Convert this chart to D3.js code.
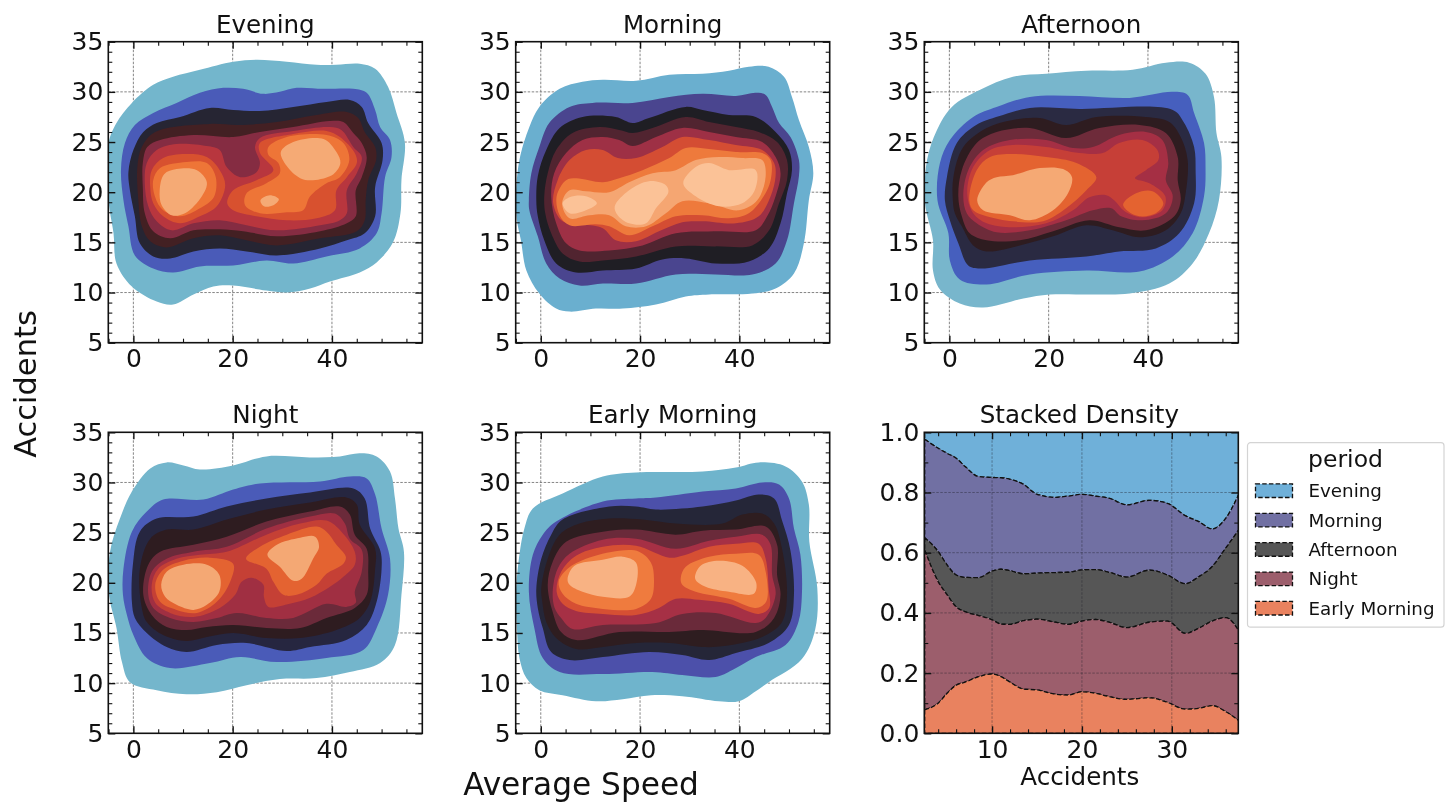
<!DOCTYPE html>
<html>
<head>
<meta charset="utf-8">
<script src="https://cdnjs.cloudflare.com/ajax/libs/d3/7.8.5/d3.min.js"></script>
<style>
    html, body { margin: 0; padding: 0; background: #fff; }
    svg { display: block; filter: blur(0.45px); }
    text { font-family: "DejaVu Sans", sans-serif; fill: #111; }
</style>
</head>
<body>
<svg id="chart" width="1452" height="802"></svg>
<script>
// contour outlines as [speed, accidents], outermost level first.
// a level can hold more than one ring
var eveningContours = [
    [[[-5,24.9],[-3.4,26.9],[-.3,28.9],[4,30.7],[8,31.5],[13.4,32.2],[20.1,33],[24.8,33.2],[30.9,33],[36.9,32.7],[40.9,32.7],[45.6,32.8],[48.7,32.3],[51.3,30.5],[53,27.9],[54.7,24.9],[54,21.2],[53.8,17.9],[52.3,15],[49,13],[45.6,12],[39.6,11.1],[35.6,10.4],[30.9,10],[26.8,10.2],[20.1,10.7],[16.1,10.6],[12.1,9.8],[8,8.8],[4.7,9.1],[-.3,10.6],[-3.4,12.9],[-4,15.9],[-5,19.2]]],
    [[[-2.5,22.2],[-1.7,24.9],[.3,26.7],[4,27.9],[8.7,28.9],[13.4,29.9],[18.1,30.4],[22.1,30.3],[26.2,29.8],[29.5,30],[32.9,30.4],[38.3,30.3],[44.3,30.3],[47,29.9],[48.7,28.2],[49.7,26.5],[51.7,25.2],[52,23.5],[50.7,21.5],[50,17.9],[49,15.9],[45.6,14.4],[38.9,13.6],[32.2,12.9],[26.8,13.2],[20.1,12.7],[13.4,12.6],[8,12],[4,12.4],[.3,13.7],[-1,16.6],[-2,19.2]]],
    [[[-1,22],[0,24.2],[2,26],[4.7,26.9],[9.4,27.5],[15.4,28.4],[20.1,28.2],[25.5,28.1],[32.2,28.5],[38.9,29],[43.6,29.2],[46,28.5],[47.3,26.9],[50,24.9],[50.2,23.2],[48.7,20.5],[48.7,17.6],[46.6,15.9],[43,15.2],[37.6,14.4],[28.9,13.7],[22.8,14.1],[17.4,14.4],[12.1,14.1],[7.4,13.4],[4,13.6],[1.3,14.9],[.3,17.6],[-.7,20.2]]],
    [[[.8,22.5],[1.7,24.5],[4.4,26],[15.4,26.8],[21.1,26.7],[28.9,27],[36.9,27.7],[43,28],[45.3,27.4],[46.6,26],[48.7,24.5],[48.9,23.2],[47.3,21.2],[46.8,19.2],[46.6,17.2],[45,16.1],[37.6,15.4],[28.9,14.7],[22.8,15.2],[17.4,15.7],[12.1,15.4],[6.7,14.5],[3.4,15.1],[1.7,16.6],[1,19.2]]],
    [[[1.9,22.9],[2.8,24.5],[5.4,25.2],[12.1,25.7],[20.1,25.5],[25.5,26],[32.2,26.5],[39.6,27.1],[42.3,27],[44.3,25.9],[46,24.9],[47,23.5],[46,21.5],[44.8,20.2],[44.8,17.6],[43,16.9],[37.6,16.1],[28.9,15.6],[22.1,16.1],[17.4,16.3],[12.1,16.2],[7.4,15.4],[4,16.1],[2.3,17.9],[1.9,20.5]]],
    [[[2.7,22.9],[4.7,24.2],[8.7,24.8],[14.8,24.6],[17.4,24.2],[18.8,22.5],[21.5,21.5],[24.8,22],[25.5,22.9],[24.5,24.5],[25.5,25.4],[32.2,26.1],[39.6,26.5],[41.9,26.2],[44.3,24.5],[46,23.5],[45,21.9],[43,20.2],[43,17.9],[41.6,17.2],[37.6,16.7],[28.9,16.2],[22.8,16.7],[17.4,17.2],[12.1,16.9],[7.7,16.2],[4.7,17.1],[3,18.6],[2.3,20.9]]],
    [[[3.7,22.2],[6,23.4],[10.4,23.8],[14.8,23.5],[17.4,22.2],[18.5,20.7],[16.8,18.6],[13.4,17.6],[9.4,16.9],[6,17.6],[4,18.9],[3.4,20.5]],
     [[25.5,24.9],[32.2,25.8],[38.9,26.1],[41.6,25.5],[44.6,23.9],[45,22.9],[43,21.5],[40.9,20.2],[40.6,18.2],[36.9,17.4],[30.9,17.2],[24.8,17.6],[20.1,18.2],[18.9,18.9],[20.1,20.2],[24.8,21.2],[28.2,22.2],[25.5,23.9]]],
    [[[4,21.2],[5.4,22.4],[10.7,23],[14.8,22.9],[16.6,21.5],[16.2,19.5],[13.4,18.4],[9.4,17.6],[6,18.2],[4.4,19.5]],
     [[27.2,24.5],[30.9,25.5],[38.9,25.7],[42.3,24.9],[43.5,23.2],[41.6,21.5],[38.9,20.9],[35.6,19.6],[34.2,18.2],[30.9,18],[25.5,17.9],[22.5,18.7],[22.8,19.9],[26.8,20.9],[29.5,21.9],[29.2,22.9],[27.2,23.7]]],
    [[[5.3,20.2],[6.2,21.8],[8.7,22.3],[12.8,22.2],[14.8,21],[13.8,19.6],[10.4,17.9],[7.7,17.7],[5.7,18.7]],
     [[29.7,24],[32.2,25],[38.3,25.3],[40.9,24],[41.7,22.9],[40.3,21.8],[36.2,21.2],[33.6,21.4],[30.9,22.6]],
     [[25.6,19.2],[27.5,19.7],[29.3,19.3],[28.2,18.7],[26.3,18.6]]]
];
var morningContours = [
    [[[-5,19.5],[-4.3,23.2],[-2.3,26.5],[-.3,28.5],[3.8,30.3],[8.4,31],[12.5,31.2],[19.2,31.1],[25.9,31.7],[32.6,31.8],[37.9,32.1],[41.9,32.5],[45.9,32.5],[49,31.5],[50.6,29.5],[52,27.2],[54,24.5],[54.9,21.9],[54,19.2],[53,14.9],[51,11.9],[47.3,10.4],[42.6,9.9],[33.9,9.8],[29.2,9.6],[23.2,8.8],[16.5,8.4],[11.1,8.4],[5.8,8.1],[3.1,8.4],[-.3,9.9],[-2.9,12.2],[-4,15.2],[-4.8,17.2]]],
    [[[-2.4,19.2],[-1.9,21.9],[-.3,24.5],[1.7,26.9],[5.8,28.5],[10.4,28.9],[18.5,28.9],[25.9,29.5],[32.6,29.8],[39.3,29.6],[43.3,29.9],[45.3,29.7],[46.6,28.5],[48,26.9],[50.3,25.5],[52,23.2],[52,21.6],[51,18.9],[49.6,15.2],[47.3,12.9],[42.6,11.8],[35.2,11.8],[27.2,11.8],[19.2,10.9],[12.5,10.9],[7.8,10.7],[3.8,11.4],[1.1,12.9],[-.6,15.6],[-2.3,18.2]]],
    [[[-.9,19.2],[-.6,21.6],[1.1,24.2],[3.8,26.4],[8.4,27.5],[15.1,27.5],[18.5,26.9],[21.8,27.4],[29.2,28.5],[32.6,28.2],[37.9,27.7],[43.3,27.5],[47.3,26],[50,24.2],[50.6,22.2],[49.6,19.9],[48.3,16.9],[46,14.4],[41.9,13.1],[35.2,12.9],[29.2,13.4],[24.5,13.3],[19.2,12.4],[12.5,12.2],[7.1,12],[3.1,12.9],[.7,15.2],[-.6,17.6]]],
    [[[.7,19.6],[1.4,21.9],[3.1,24.2],[6.4,25.9],[11.8,26.5],[15.8,26.2],[18.5,25.9],[22.5,26.4],[29.2,27.5],[33.9,27],[39.3,26.5],[43.9,26],[47.6,25],[49.6,23.2],[49.6,21.2],[48,18.9],[46,16.2],[42.6,14.7],[35.2,14.6],[27.2,14.6],[19.2,13.6],[12.5,13.2],[7.8,13.1],[4.4,13.9],[2.1,15.9],[.9,17.9]]],
    [[[2.1,19.6],[2.7,21.9],[5.1,23.9],[8.4,25.2],[12.5,25.5],[15.8,25.2],[18.5,24.6],[23.2,25.5],[28.5,26.4],[33.9,26],[39.3,25.5],[44.6,25],[47.3,23.5],[48.3,21.9],[47.3,19.6],[45.6,17.6],[43.3,16.2],[35.9,16.1],[27.2,15.9],[20.5,14.7],[13.8,14.2],[7.8,14.2],[5.1,14.9],[3.1,16.9]]],
    [[[2.5,18.9],[3.4,21.2],[5.8,23.2],[9.1,24.2],[12.5,24.2],[15.5,23.4],[19.2,23.4],[24.5,24.5],[28.5,25.5],[33.9,25.2],[39.3,24.7],[44.6,24.2],[47,22.9],[47.3,21.6],[46.3,19.6],[43.9,17.6],[39.3,16.9],[32.6,17.1],[28.5,17],[23.8,16.1],[19.2,15.1],[15.1,15.2],[12.5,16.4],[8.4,16.8],[4.4,17.1]]],
    [[[3.2,19.6],[5.1,21.2],[7.1,21.4],[12.5,21],[15.8,21.4],[20.5,22.2],[25.9,23.4],[29.2,24.4],[33.9,24.3],[39.3,24],[44.6,23.9],[46.3,23.2],[46.3,21.2],[44.9,19.6],[41.9,17.9],[37.9,17.4],[32.6,17.7],[27.2,17.6],[22.5,16.6],[17.8,15.7],[13.8,16.6],[11.1,16.8],[5.8,16.7],[3.8,17.7]]],
    [[[4.3,18.9],[5.8,20.2],[9.1,20.1],[13.8,20],[17.8,21],[22.5,21.9],[27.2,22.2],[31.2,23.2],[35.9,23.5],[40.6,23.4],[44.6,23.2],[45.3,21.6],[43.6,19.2],[39.9,18.2],[33.9,18.9],[28.5,19.1],[25.2,17.9],[21.2,16.6],[17.1,16.6],[13.8,17.7],[9.8,17.7],[5.8,17.4]]],
    [[[4.4,18.9],[5.8,19.5],[9.1,19.6],[11.3,18.9],[9.1,18.2],[5.8,17.9]],
     [[14.9,18.6],[17.8,20.2],[21.8,21.1],[25.2,20.7],[25.7,20],[23.2,18.4],[21.2,16.9],[17.8,16.9],[15.5,17.7]],
     [[28.7,20.9],[31.2,22.5],[33.9,22.9],[37.9,22.2],[43.3,22.2],[43.1,20.2],[40.6,18.9],[35.9,18.6],[31.2,19.6]]]
];
var afternoonContours = [
    [[[-4.9,18.9],[-4.5,23.2],[-2.5,26.2],[.5,28.5],[6.2,30.2],[12.8,31.5],[19.5,31.8],[27.6,32.1],[36.9,32.2],[43.6,32.9],[48.3,32.9],[51.6,31.8],[53.3,29.5],[53.8,25.9],[54.8,23.5],[54.3,19.2],[52.3,15.9],[49,12.9],[44.3,10.9],[36.3,9.9],[28.9,9.8],[20.2,9.8],[14.9,9.4],[6.8,8.5],[2.1,8.9],[-1.9,10.3],[-3.3,12.2],[-3.3,15.2]]],
    [[[-2.4,19.2],[-1.9,22.9],[.1,25.2],[4.8,27.5],[9.5,28.5],[16.2,29.5],[26.2,29.6],[36.3,29.4],[45,30],[48,29.7],[49.3,27.9],[51.3,24.9],[51.6,22.5],[51.3,19.6],[49,15.9],[45,13.6],[38.3,12.1],[27.6,12.2],[16.2,11.8],[7.5,10.8],[2.1,11.3],[.1,13.2],[-.2,15.9]]],
    [[[-.9,19.2],[-.5,21.5],[1.5,24.9],[5.4,26.7],[10.8,27.7],[16.2,28.4],[26.2,28.3],[45,28.2],[47.3,26.9],[49.3,24.5],[49.6,22.2],[49.3,18.9],[46.3,15.9],[41.6,14.4],[34.2,14.1],[27.6,13.6],[16.2,13.2],[6.2,12.4],[3.8,12.7],[1.8,14.9],[.1,17.2]]],
    [[[.7,19.2],[.8,21.5],[2.8,24.5],[7.5,26.4],[12.8,27.2],[18.2,27.4],[23.5,26.7],[29.6,27.5],[39.6,27.5],[44.3,27],[46.6,25.5],[48,23.2],[47.6,19.9],[46.6,17.9],[43.6,16.2],[38.3,15.5],[32.9,16.2],[27.6,16.7],[20.9,15.6],[14.2,14.7],[7.5,14.1],[4.8,14.7],[2.5,16.6],[1.1,17.9]]],
    [[[1.8,19.6],[2.5,22.2],[5.5,24.9],[9.5,26],[16.2,26.4],[23.5,25.4],[30.2,26.4],[38.3,26.7],[43.6,25.9],[46,23.5],[46,21.2],[46.6,19.2],[45.3,17.6],[39.6,16.2],[34.2,16.5],[28.2,17.2],[20.9,16.1],[14.2,15.2],[7.5,15.2],[4.1,15.9],[2.5,17.6]]],
    [[[2.8,19.6],[3.8,22.2],[6.8,24.2],[12.2,25.2],[19.5,25.2],[24.9,24.4],[28.9,24.5],[34.2,25.7],[39.6,26],[42.9,25.2],[44.1,22.9],[43.6,21.2],[45,19.6],[43.6,17.9],[38.9,17.2],[34.6,17.6],[32.6,18.4],[28.9,18.2],[23.5,17.2],[16.2,16.2],[9.5,16],[5.5,16.9],[3.5,17.9]]],
    [[[3.6,19.9],[4.8,22.5],[8.2,24.2],[12.8,24.7],[19.5,24.5],[26.2,23.9],[30.9,23.9],[34.2,24.9],[38.9,25.2],[41.9,24.2],[42.1,23.2],[39.6,22.2],[37.4,21.4],[40.3,20.9],[43.5,19.6],[42.9,18.2],[38.9,17.5],[35.3,18.1],[33.2,19.2],[31.6,19.7],[28.2,19.5],[24.9,18.2],[19.5,16.9],[12.8,16.5],[7.5,16.9],[4.8,17.9]]],
    [[[4,19.2],[5.5,22.2],[8.2,23.5],[12.8,23.8],[19.5,23.5],[25.6,22.9],[29.6,21.5],[27.6,20.2],[23.5,18.4],[18.9,17.1],[12.8,17.1],[7.5,17.6],[4.8,18.2]],
     [[35,18.8],[37.6,19.9],[40.9,20.1],[43.1,18.9],[41.6,17.9],[38.3,17.6],[36,18.1]]],
    [[[5.6,19.2],[7.5,21],[9.5,21.5],[12.8,21.7],[18.2,22.4],[22.9,22.3],[24.7,21.5],[23.9,19.9],[20.9,18.2],[16.2,17.2],[12.2,17.7],[6.8,18.2]]]
];
var nightContours = [
    [[[-4.9,18.8],[-4.7,23.1],[-2.7,26.4],[-.3,29.1],[3.4,31.4],[6.7,32],[10.1,31.7],[13.4,31.3],[20.1,31.7],[26.8,32.6],[35.6,32.5],[41.6,32.6],[45.6,32.9],[49,32.6],[51.7,31.1],[52.7,28.4],[53.4,25.4],[54.5,23.1],[54,18.8],[52.7,13.8],[49.7,12],[43.6,11.1],[36.9,10.5],[29.5,10.4],[22.8,9.8],[16.8,9.1],[10.7,8.9],[4.7,9.3],[-.7,10.1],[-2.3,12.1],[-3.4,15.5]]],
    [[[-2.1,18.8],[-2,21.4],[-.3,25.1],[2.7,27.1],[6,28.3],[14.1,28.3],[20.1,29.3],[25.5,29.9],[37.6,30.1],[43.6,30.6],[47,30.4],[48.7,28.8],[50,25.4],[51.7,22.4],[51.3,18.8],[49,15.5],[46.3,13.3],[38.9,12.5],[28.9,12.1],[21.5,12.6],[15.4,12],[7.4,11.5],[2.7,12.5],[0,14.8],[-1.3,16.8]]],
    [[[-.3,18.1],[-.1,21.8],[1.3,25.1],[4.7,26.4],[12.1,26.6],[18.8,27.6],[26.8,28.4],[35.6,29],[44.3,29.4],[46.6,28.4],[47.7,25.4],[49.8,23.1],[50,21.4],[49,18.1],[47,15.8],[42.9,14.3],[35.6,13.6],[30.9,13.2],[22.8,14],[16.8,13.8],[10.7,13.1],[6.7,13.6],[2.7,15],[.3,16.5]]],
    [[[1.7,17.5],[1.3,21.4],[3.4,24.4],[6.7,25.3],[12.1,25.3],[18.8,26.3],[26.8,27.3],[35.6,28],[42.9,28.5],[45,27.8],[45.6,25.8],[48.7,23.4],[48.7,21.4],[47.7,18.1],[45.6,16.5],[40.9,15.3],[33.6,14.5],[26.8,14.5],[20.1,15],[14.8,14.6],[10.7,14.2],[6,14.8],[2.7,16.1]]],
    [[[2,18.8],[3,21.8],[5.4,23.1],[12.1,23.8],[18.8,24.6],[26.8,26.1],[35.6,27.1],[41.6,27.6],[43.6,26.8],[44.6,24.8],[47,23.4],[47.3,21.1],[47,18.8],[44.6,17.5],[38.9,16.5],[33.6,15.5],[26.8,15.5],[20.1,15.8],[14.8,15.6],[10.7,15.3],[6.7,15.6],[3.7,16.8]]],
    [[[3,18.8],[3.7,21.1],[6.7,22.4],[12.1,23.1],[18.8,23.6],[26.8,25.4],[35.6,26.6],[40.6,26.9],[42.6,25.9],[43.6,24.4],[46,23.3],[46,21.1],[44.6,19.1],[44.8,18],[42.9,17.6],[38.9,17.9],[32.2,16.5],[26.8,16.5],[20.8,17],[16.8,16.5],[12.1,16.1],[7.4,16.5],[4,17.5]]],
    [[[3.7,19.8],[5,21.4],[8.7,22.4],[13.4,22.8],[18.8,23.1],[26.8,24.8],[33.6,25.9],[38.9,26.2],[41.9,25.1],[44.6,23.1],[44.6,21.8],[42.3,20.6],[39.6,19.6],[35.6,18.5],[31.5,17.9],[27.2,17.6],[26.3,18.6],[26.2,19.8],[23.8,20.5],[21.8,20.1],[20.5,18.8],[17.4,17.5],[12.1,16.6],[7.4,17],[4.4,18]]],
    [[[4.4,19.8],[6,21.3],[10.1,22.2],[15.4,22.5],[20.1,21.9],[19.5,20.1],[16.8,18.1],[12.8,17],[8.7,17.3],[5.4,18.1]],
     [[22.7,22.4],[25.5,23.6],[30.9,24.8],[36.9,25.6],[38.9,25.1],[40.9,23.8],[42.8,22.6],[42.3,21.9],[38.9,20.9],[36.9,19.8],[32.9,18.8],[30.2,18.8],[28.2,20.1],[26.8,21.4]]],
    [[[5.6,19.8],[6.7,21.1],[10.1,21.8],[14.8,21.8],[17.3,20.8],[17.3,19.1],[14.8,17.8],[12.1,17.3],[8.7,17.8],[6.4,18.6]],
     [[27,22.8],[28.9,23.8],[33.6,24.5],[36.6,24.6],[37.4,23.6],[36.2,22.4],[33.9,20.4],[32.2,20.2],[29.5,21.6]]]
];
var earlyMorningContours = [
    [[[-5,18.8],[-4.3,22.8],[-3.3,25.4],[-1.6,27.4],[4.4,28.9],[12.5,30.6],[19.2,31],[32.6,31.1],[39.3,31.5],[43.9,32],[49.3,31.6],[52.6,30.1],[54,27.8],[54.1,24.1],[55.7,19.5],[55.3,15.4],[52.6,12.4],[45.9,10.1],[43.3,9.2],[39.9,8.2],[35.9,8.2],[28.5,8.7],[22.2,8.8],[16.5,8.4],[11.1,8.2],[4.4,8.8],[-.3,9.3],[-2.9,10.5],[-4.3,12.5],[-4.8,15.5]]],
    [[[-2.4,19.1],[-1.6,22.8],[.4,24.8],[3.1,26.1],[12.5,28.1],[19.2,28.4],[23.2,28.5],[32.6,29.1],[39.3,29.4],[44.6,30],[48,29.8],[50,28.4],[51,25.4],[52.3,22.8],[52.6,18.8],[51.9,16.1],[49.3,13.8],[43.3,12.6],[38.6,11.3],[35.2,10.6],[28.5,10.8],[22.5,11.1],[12.5,10.9],[3.8,11.1],[.4,12.5],[-1.3,15.5]]],
    [[[-.9,19.4],[.1,22.4],[2.1,24.8],[4.4,26.3],[13.8,27.6],[19.2,27.6],[23.2,27.3],[32.6,27.6],[39.3,28.2],[43.9,28.8],[47,28.4],[48.6,26.2],[50.3,23.2],[51,18.8],[50,15.8],[45.9,14],[39.3,13],[33.9,12.3],[28.5,12.8],[21.8,13.1],[12.5,12.6],[5.8,12.3],[2.1,13.1],[.4,15.5],[-.6,17.5]]],
    [[[.1,19.4],[1.4,22.4],[3.8,24.8],[7.8,25.9],[13.8,26.4],[20.5,26.3],[27.2,25.9],[36.6,25.9],[40.6,26.8],[44.6,26.9],[47,25.9],[48.6,23.4],[49.6,18.8],[48.6,16.1],[44.6,14.6],[36.9,13.7],[32.6,13.6],[25.9,14],[19.2,14],[12.5,13.6],[7.1,13.4],[3.1,14.5],[1.1,16.1],[.3,18.1]]],
    [[[1.4,19.8],[2.4,22.1],[5.1,24.1],[12.5,25.1],[19.2,25.3],[27.2,24.8],[32.6,25.2],[39.3,25.3],[45.3,25.6],[47.6,23.8],[47.6,20.8],[48.3,18.8],[47,16.5],[43.3,15.1],[32.6,15.3],[25.9,15.1],[15.8,15.1],[7.1,14.3],[4.1,15.1],[2.4,17.1]]],
    [[[2.4,19.1],[3.4,21.4],[5.8,22.9],[12.5,24.3],[19.2,24.4],[27.2,23.4],[33.9,24.2],[39.3,24.6],[44.6,24.8],[46.3,23.8],[46.6,20.8],[47.3,18.8],[45.3,16.5],[43.3,16],[35.2,17],[28.5,16.9],[23.2,16],[12.5,15.8],[6.4,15.4],[4.1,16.5],[2.8,17.5]]],
    [[[3.2,19.1],[4.1,21.1],[7.1,22.7],[12.5,23.6],[19.2,23.7],[25.9,22.5],[28.5,22.7],[33.9,23.6],[39.3,23.9],[43.9,23.9],[45.3,22.4],[45.9,19.5],[46,17.5],[43.9,16.9],[37.9,17.9],[31.9,18.3],[27.2,18.4],[23.8,17.5],[19.2,16.8],[12.5,16.9],[7.1,17.2],[4.4,17.9]]],
    [[[3.6,20.1],[5.4,21.4],[9.1,22.4],[15.8,23.2],[19.8,23.1],[22.2,22],[22.8,20.4],[22.2,18.4],[19.2,17.4],[12.5,17.4],[7.1,17.9],[4.4,18.9]],
     [[28.2,20.5],[29.2,21.6],[33.9,22.6],[39.3,22.9],[43.9,22.8],[45.3,21.1],[45.4,18.1],[43.3,17.5],[37.9,18.4],[31.2,19.1],[28.5,19.8]]],
    [[[5.4,20.4],[6.8,21.7],[12.5,22.3],[16.5,22.6],[19.2,22],[19.2,19.8],[17.8,18.6],[12.5,18.6],[8.4,19.1],[5.8,19.8]],
     [[31.1,20.4],[32.2,21.7],[35.9,22.2],[40.6,21.7],[43.4,20],[42.9,18.9],[37.9,19.1],[33.2,19.6]]]
];

var eveningColors = ["#73b6cc","#4a5bb8","#262533","#432023","#852c42","#b8363e","#d8512f","#ee7537","#f5aa75"];
var morningColors = ["#6aafcf","#4a458f","#1f1e24","#512430","#9e3045","#d44d33","#ee7a3c","#f5a672","#fbc297"];
var afternoonColors = ["#78b6cc","#465fbe","#2a2a42","#2e1c20","#6e2b3a","#a52f44","#c63f37","#e46330","#f5a974"];
var nightColors = ["#74b6cc","#4a5bb8","#262640","#2e1c20","#6b2a3a","#a02f42","#c54035","#e46331","#f4a874"];
var earlyMorningColors = ["#6fb4cc","#4c50aa","#252638","#2e1d20","#6a2a3a","#a63045","#d64f33","#ef7b3e","#f8b283"];

var periods = ["Evening", "Morning", "Afternoon", "Night", "Early Morning"];
var periodColors = ["#6fb0d9", "#7170a3", "#565656", "#9c5e6c", "#e9825f"];

// stacked density: upper edge of each band
var accidentsGrid = [2.5,4,5,6,7,8.5,10,11,12,13.5,15,17,18.5,20,21.5,23,25,27.5,29.5,31.5,33,34.5,36,37.5];
var eveningTop = [1,1,1,1,1,1,1,1,1,1,1,1,1,1,1,1,1,1,1,1,1,1,1,1];
var morningTop = [.977,.947,.93,.914,.886,.853,.85,.849,.844,.827,.794,.784,.788,.794,.788,.781,.759,.774,.764,.723,.703,.679,.714,.797];
var afternoonTop = [.65,.604,.559,.526,.518,.517,.539,.545,.54,.53,.532,.534,.535,.543,.544,.535,.519,.542,.526,.497,.52,.554,.615,.678];
var nightTop = [.609,.504,.46,.42,.404,.391,.377,.363,.362,.374,.379,.369,.362,.373,.378,.369,.351,.369,.373,.332,.349,.373,.384,.338];
var earlyMorningTop = [.078,.1,.133,.16,.17,.188,.197,.188,.17,.147,.144,.13,.127,.138,.133,.122,.113,.118,.103,.08,.083,.092,.072,.041];
var bottomEdge = [0,0,0,0,0,0,0,0,0,0,0,0,0,0,0,0,0,0,0,0,0,0,0,0];

var speedTicks = [0, 20, 40];
var speedMinorTicks = [-5,5,10,15,25,30,35,45,50,55];
var accidentTicks = [5, 10, 15, 20, 25, 30, 35];
var stackedXTicks = [10, 20, 30];
var stackedXMinorTicks = [4,6,8,12,14,16,18,22,24,26,28,32,34,36];
var stackedYTicks = [0, .2, .4, .6, .8, 1];
var stackedYMinorTicks = [.1,.3,.5,.7,.9];

var svg = d3.select("#chart");
var panelW = 314, panelH = 301;
var columns = [108.3, 515.7, 924.3];
var rows = [41.7, 432.3];
var tickFont = "25px", titleFont = "24.6px";

function range(a, b) {
    var out = [];
    for (var i = a; i <= b; i++) out.push(i);
    return out;
}

// four sided frame with inward ticks, labels on left and bottom only
function drawAxes(g, x, y, xTicks, xMinor, yTicks, yMinor, yFormat) {
    var w = panelW, h = panelH;
    var blank = function() { return ""; };
    var sides = [
        {ax: d3.axisBottom, scale: x, t: "translate(0," + h + ")", major: xTicks, minor: xMinor, labelled: true},
        {ax: d3.axisTop, scale: x, t: "translate(0,0)", major: xTicks, minor: xMinor},
        {ax: d3.axisLeft, scale: y, t: "translate(0,0)", major: yTicks, minor: yMinor, labelled: true, fmt: yFormat},
        {ax: d3.axisRight, scale: y, t: "translate(" + w + ",0)", major: yTicks, minor: yMinor}
    ];
    sides.forEach(function(s) {
        g.append("g").attr("transform", s.t)
            .call(s.ax(s.scale).tickValues(s.minor).tickSize(-4).tickFormat(blank))
            .call(function(a) { a.select(".domain").remove(); a.selectAll("line").attr("stroke", "#111").attr("stroke-width", 1.1); });
        var major = g.append("g").attr("transform", s.t)
            .call(s.ax(s.scale).tickValues(s.major).tickSize(-7).tickPadding(s.ax === d3.axisBottom ? 7 : 5)
                .tickFormat(s.labelled ? (s.fmt || d3.format("d")) : blank));
        major.select(".domain").remove();
        major.selectAll("line").attr("stroke", "#111").attr("stroke-width", 1.4);
        major.selectAll("text").style("font-size", tickFont).style("font-family", '"DejaVu Sans"').attr("fill", "#111");
    });
    g.append("rect").attr("width", w).attr("height", h)
        .attr("fill", "none").attr("stroke", "#111").attr("stroke-width", 1.6);
}

function drawGrid(g, x, y, xTicks, yTicks, color) {
    var grid = g.append("g");
    grid.selectAll(".gx").data(xTicks).enter().append("line")
        .attr("x1", function(d) { return x(d); }).attr("x2", function(d) { return x(d); })
        .attr("y1", 0).attr("y2", panelH);
    grid.selectAll(".gy").data(yTicks).enter().append("line")
        .attr("y1", function(d) { return y(d); }).attr("y2", function(d) { return y(d); })
        .attr("x1", 0).attr("x2", panelW);
    grid.selectAll("line").attr("stroke", color).attr("stroke-width", 0.9).attr("stroke-dasharray", "2.5 1.5");
}

function drawKdePanel(i, column, row, title, contours, colors) {
    var g = svg.append("g").attr("transform", "translate(" + columns[column] + "," + rows[row] + ")");
    var x = d3.scaleLinear().domain([-5.05, 58.2]).range([0, panelW]);
    var y = d3.scaleLinear().domain([5, 35]).range([panelH, 0]);
    var clipId = "clip" + i;
    g.append("clipPath").attr("id", clipId).append("rect").attr("width", panelW).attr("height", panelH);

    drawGrid(g, x, y, speedTicks, accidentTicks.slice(1, 6), "#777");

    var line = d3.line()
        .x(function(d) { return x(d[0]); })
        .y(function(d) { return y(d[1]); })
        .curve(d3.curveCatmullRomClosed.alpha(0.5));

    var levels = g.append("g").attr("clip-path", "url(#" + clipId + ")");
    contours.forEach(function(rings, level) {
        levels.selectAll(".l" + level).data(rings).enter().append("path")
            .attr("d", line).attr("fill", colors[level]);
    });

    drawAxes(g, x, y, speedTicks, speedMinorTicks, accidentTicks, range(6, 34).filter(function(v) { return v % 5 != 0; }));

    g.append("text").attr("x", panelW / 2).attr("y", -9).attr("text-anchor", "middle")
        .style("font-size", titleFont).text(title);
}

function drawStackedPanel() {
    var g = svg.append("g").attr("transform", "translate(" + columns[2] + "," + rows[1] + ")");
    var x = d3.scaleLinear().domain([2.46, 37.4]).range([0, panelW]);
    var y = d3.scaleLinear().domain([0, 1]).range([panelH, 0]);
    var tops = [eveningTop, morningTop, afternoonTop, nightTop, earlyMorningTop, bottomEdge];

    g.append("clipPath").attr("id", "clipStack").append("rect").attr("width", panelW).attr("height", panelH);
    var bands = g.append("g").attr("clip-path", "url(#clipStack)");

    periods.forEach(function(p, i) {
        var area = d3.area()
            .x(function(d) { return x(d); })
            .y1(function(d, j) { return y(tops[i][j]); })
            .y0(function(d, j) { return y(tops[i + 1][j]); })
            .curve(d3.curveMonotoneX);
        bands.append("path").attr("d", area(accidentsGrid))
            .attr("fill", periodColors[i])
            .attr("stroke", "#111").attr("stroke-width", 1.3).attr("stroke-dasharray", "4.5 2.2");
    });

    drawGrid(g, x, y, stackedXTicks, stackedYTicks.slice(1, 5), "rgba(30,30,40,0.45)");
    drawAxes(g, x, y, stackedXTicks, stackedXMinorTicks, stackedYTicks, stackedYMinorTicks, d3.format(".1f"));

    g.append("text").attr("x", panelW / 2 - 2).attr("y", -9).attr("text-anchor", "middle")
        .style("font-size", titleFont).text("Stacked Density");
    g.append("text").attr("x", panelW / 2 - 1.5).attr("y", panelH + 52).attr("text-anchor", "middle")
        .style("font-size", "24.6px").text("Accidents");
}

function drawLegend() {
    var g = svg.append("g").attr("transform", "translate(1247.5,442.7)");
    g.append("rect").attr("width", 196.5).attr("height", 184.5).attr("rx", 3)
        .attr("fill", "#fff").attr("stroke", "#d4d4d4").attr("stroke-width", 1.2);
    g.append("text").attr("x", 98).attr("y", 24).attr("text-anchor", "middle")
        .style("font-size", "23.5px").text("period");
    var rowY = d3.scalePoint().domain(periods).range([48, 165.5]);
    periods.forEach(function(p, i) {
        g.append("rect").attr("x", 8).attr("y", rowY(p) - 6.8).attr("width", 37).attr("height", 13.6)
            .attr("fill", periodColors[i]).attr("stroke", "#111").attr("stroke-width", 1.3).attr("stroke-dasharray", "4.5 2.2");
        g.append("text").attr("x", 61).attr("y", rowY(p) + 6.5).style("font-size", "18.3px").text(p);
    });
}

var kdeData = [eveningContours, morningContours, afternoonContours, nightContours, earlyMorningContours];
var kdeColors = [eveningColors, morningColors, afternoonColors, nightColors, earlyMorningColors];
periods.forEach(function(p, i) {
    drawKdePanel(i, i % 3, Math.floor(i / 3), p, kdeData[i], kdeColors[i]);
});
drawStackedPanel();
drawLegend();

svg.append("text").attr("transform", "translate(36,384) rotate(-90)").attr("text-anchor", "middle")
    .style("font-size", "30.5px").text("Accidents");
svg.append("text").attr("x", 581).attr("y", 795).attr("text-anchor", "middle")
    .style("font-size", "31.2px").text("Average Speed");
</script>
</body>
</html>
